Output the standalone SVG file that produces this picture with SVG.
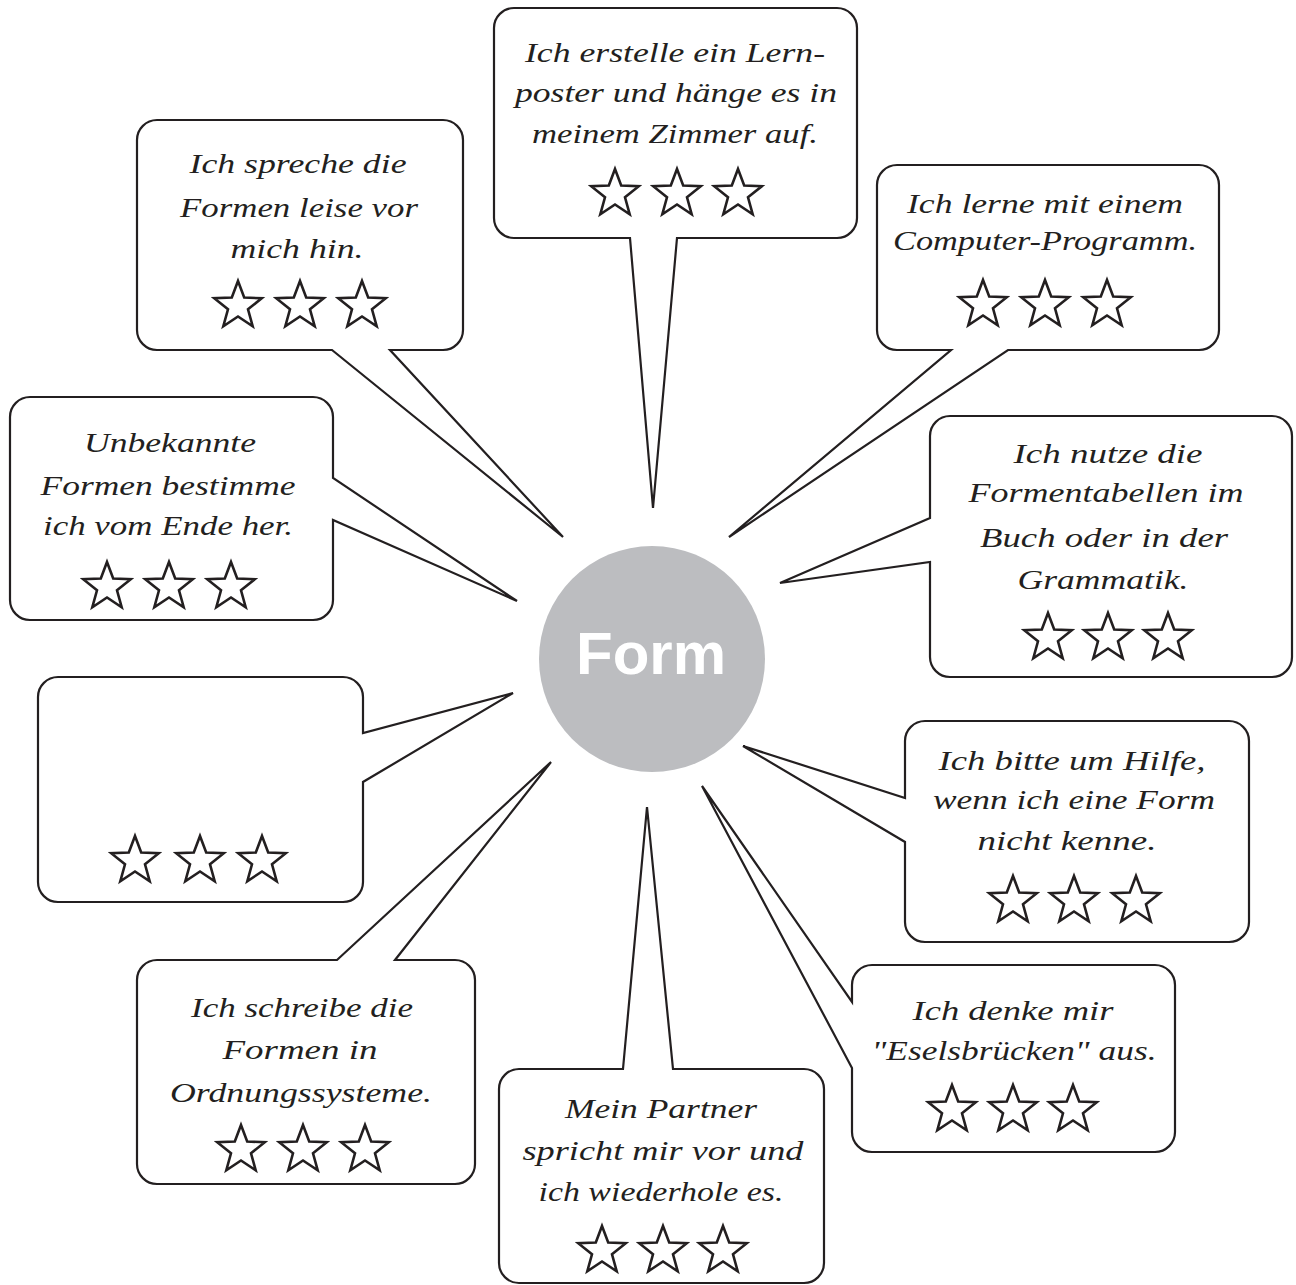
<svg xmlns="http://www.w3.org/2000/svg" xmlns:xlink="http://www.w3.org/1999/xlink" width="1296" height="1285" viewBox="0 0 1296 1285">
<style>
.b{fill:#fff;stroke:#231f20;stroke-width:2.2;stroke-linejoin:miter}
.t{font-family:"Liberation Serif","DejaVu Serif",serif;font-style:italic;font-size:28px;fill:#231f20;text-anchor:middle}
.s{fill:#fff;stroke:#231f20;stroke-width:2.6;stroke-linejoin:miter}
</style>
<defs>
<path id="star" d="M0,-25 L6.2,-8.5 L23.78,-7.73 L10,3.25 L14.69,20.23 L0,10.5 L-14.69,20.23 L-10,3.25 L-23.78,-7.73 L-6.2,-8.5 Z"/>
</defs>
<rect width="1296" height="1285" fill="#fff"/>

<g id="center">
<circle cx="652" cy="659" r="113" fill="#bcbdc0"/>
<text x="651" y="674" font-family="Liberation Sans, Arial, sans-serif" font-weight="bold" font-size="60" fill="#fff" text-anchor="middle">Form</text>
</g>

<g id="n-erstelle">
<path class="b" d="M514,8 H837 A20,20 0 0 1 857,28 V218 A20,20 0 0 1 837,238 H677 L653,508 L630,238 H514 A20,20 0 0 1 494,218 V28 A20,20 0 0 1 514,8 Z"/>
<text class="t" x="675" y="62" textLength="300" lengthAdjust="spacingAndGlyphs">Ich erstelle ein Lern-</text>
<text class="t" x="676" y="102" textLength="322" lengthAdjust="spacingAndGlyphs">poster und hänge es in</text>
<text class="t" x="675" y="143" textLength="286" lengthAdjust="spacingAndGlyphs">meinem Zimmer auf.</text>
<use href="#star" class="s" x="615" y="194"/><use href="#star" class="s" x="677" y="194"/><use href="#star" class="s" x="738" y="194"/>
</g>

<g id="n-spreche">
<path class="b" d="M157,120 H443 A20,20 0 0 1 463,140 V330 A20,20 0 0 1 443,350 H390 L563,537 L332,350 H157 A20,20 0 0 1 137,330 V140 A20,20 0 0 1 157,120 Z"/>
<text class="t" x="298" y="173" textLength="217" lengthAdjust="spacingAndGlyphs">Ich spreche die</text>
<text class="t" x="299" y="217" textLength="238" lengthAdjust="spacingAndGlyphs">Formen leise vor</text>
<text class="t" x="297" y="258" textLength="133" lengthAdjust="spacingAndGlyphs">mich hin.</text>
<use href="#star" class="s" x="238" y="306"/><use href="#star" class="s" x="300" y="306"/><use href="#star" class="s" x="362" y="306"/>
</g>

<g id="n-lerne">
<path class="b" d="M897,165 H1199 A20,20 0 0 1 1219,185 V330 A20,20 0 0 1 1199,350 H1008 L729,537 L951,350 H897 A20,20 0 0 1 877,330 V185 A20,20 0 0 1 897,165 Z"/>
<text class="t" x="1045" y="213" textLength="276" lengthAdjust="spacingAndGlyphs">Ich lerne mit einem</text>
<text class="t" x="1045" y="250" textLength="304" lengthAdjust="spacingAndGlyphs">Computer-Programm.</text>
<use href="#star" class="s" x="983" y="305"/><use href="#star" class="s" x="1045" y="305"/><use href="#star" class="s" x="1107" y="305"/>
</g>

<g id="n-unbekannte">
<path class="b" d="M30,397 H313 A20,20 0 0 1 333,417 V478 L517,601 L333,520 V600 A20,20 0 0 1 313,620 H30 A20,20 0 0 1 10,600 V417 A20,20 0 0 1 30,397 Z"/>
<text class="t" x="170" y="452" textLength="172" lengthAdjust="spacingAndGlyphs">Unbekannte</text>
<text class="t" x="168" y="495" textLength="255" lengthAdjust="spacingAndGlyphs">Formen bestimme</text>
<text class="t" x="168" y="535" textLength="250" lengthAdjust="spacingAndGlyphs">ich vom Ende her.</text>
<use href="#star" class="s" x="107" y="587"/><use href="#star" class="s" x="169" y="587"/><use href="#star" class="s" x="231" y="587"/>
</g>

<g id="n-nutze">
<path class="b" d="M950,416 H1272 A20,20 0 0 1 1292,436 V657 A20,20 0 0 1 1272,677 H950 A20,20 0 0 1 930,657 V562 L780,583 L930,518 V436 A20,20 0 0 1 950,416 Z"/>
<text class="t" x="1108" y="463" textLength="189" lengthAdjust="spacingAndGlyphs">Ich nutze die</text>
<text class="t" x="1106" y="502" textLength="275" lengthAdjust="spacingAndGlyphs">Formentabellen im</text>
<text class="t" x="1104" y="547" textLength="248" lengthAdjust="spacingAndGlyphs">Buch oder in der</text>
<text class="t" x="1103" y="589" textLength="171" lengthAdjust="spacingAndGlyphs">Grammatik.</text>
<use href="#star" class="s" x="1048" y="638"/><use href="#star" class="s" x="1108" y="638"/><use href="#star" class="s" x="1168" y="638"/>
</g>

<g id="n-empty">
<path class="b" d="M58,677 H343 A20,20 0 0 1 363,697 V733 L513,693 L363,782 V882 A20,20 0 0 1 343,902 H58 A20,20 0 0 1 38,882 V697 A20,20 0 0 1 58,677 Z"/>
<use href="#star" class="s" x="135" y="861"/><use href="#star" class="s" x="200" y="861"/><use href="#star" class="s" x="262" y="861"/>
</g>

<g id="n-bitte">
<path class="b" d="M925,721 H1229 A20,20 0 0 1 1249,741 V922 A20,20 0 0 1 1229,942 H925 A20,20 0 0 1 905,922 V842 L743,746 L905,798 V741 A20,20 0 0 1 925,721 Z"/>
<text class="t" x="1072" y="770" textLength="267" lengthAdjust="spacingAndGlyphs">Ich bitte um Hilfe,</text>
<text class="t" x="1074" y="809" textLength="282" lengthAdjust="spacingAndGlyphs">wenn ich eine Form</text>
<text class="t" x="1067" y="850" textLength="179" lengthAdjust="spacingAndGlyphs">nicht kenne.</text>
<use href="#star" class="s" x="1013" y="901"/><use href="#star" class="s" x="1074" y="901"/><use href="#star" class="s" x="1136" y="901"/>
</g>

<g id="n-denke">
<path class="b" d="M872,965 H1155 A20,20 0 0 1 1175,985 V1132 A20,20 0 0 1 1155,1152 H872 A20,20 0 0 1 852,1132 V1068 L702,786 L852,1002 V985 A20,20 0 0 1 872,965 Z"/>
<text class="t" x="1013" y="1020" textLength="201" lengthAdjust="spacingAndGlyphs">Ich denke mir</text>
<text class="t" x="1014" y="1060" textLength="285" lengthAdjust="spacingAndGlyphs">"Eselsbrücken" aus.</text>
<use href="#star" class="s" x="952" y="1110"/><use href="#star" class="s" x="1013" y="1110"/><use href="#star" class="s" x="1073" y="1110"/>
</g>

<g id="n-partner">
<path class="b" d="M519,1069 H623 L647,807 L673,1069 H804 A20,20 0 0 1 824,1089 V1263 A20,20 0 0 1 804,1283 H519 A20,20 0 0 1 499,1263 V1089 A20,20 0 0 1 519,1069 Z"/>
<text class="t" x="661" y="1118" textLength="192" lengthAdjust="spacingAndGlyphs">Mein Partner</text>
<text class="t" x="663" y="1160" textLength="281" lengthAdjust="spacingAndGlyphs">spricht mir vor und</text>
<text class="t" x="661" y="1201" textLength="245" lengthAdjust="spacingAndGlyphs">ich wiederhole es.</text>
<use href="#star" class="s" x="602" y="1251"/><use href="#star" class="s" x="663" y="1251"/><use href="#star" class="s" x="723" y="1251"/>
</g>

<g id="n-schreibe">
<path class="b" d="M157,960 H337 L551,762 L395,960 H455 A20,20 0 0 1 475,980 V1164 A20,20 0 0 1 455,1184 H157 A20,20 0 0 1 137,1164 V980 A20,20 0 0 1 157,960 Z"/>
<text class="t" x="302" y="1017" textLength="222" lengthAdjust="spacingAndGlyphs">Ich schreibe die</text>
<text class="t" x="300" y="1059" textLength="155" lengthAdjust="spacingAndGlyphs">Formen in</text>
<text class="t" x="301" y="1102" textLength="262" lengthAdjust="spacingAndGlyphs">Ordnungssysteme.</text>
<use href="#star" class="s" x="241" y="1150"/><use href="#star" class="s" x="303" y="1150"/><use href="#star" class="s" x="365" y="1150"/>
</g>
</svg>
